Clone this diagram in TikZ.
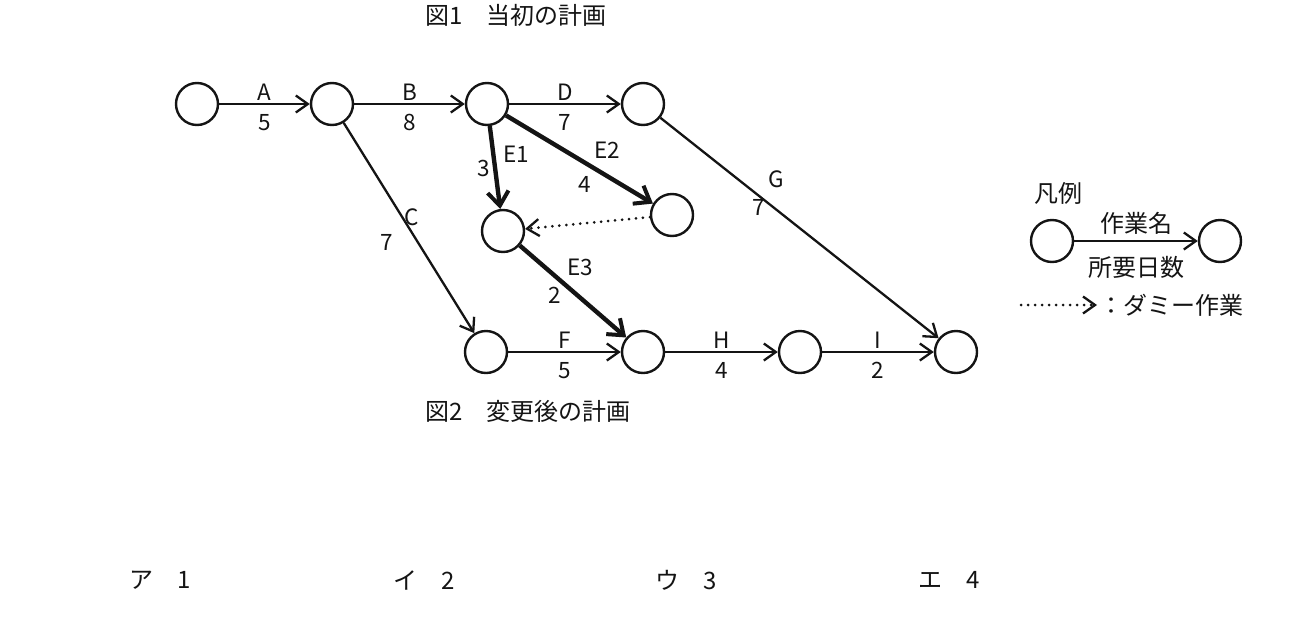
\documentclass[tikz,border=0pt]{standalone}
\usepackage{fontspec}
\setmainfont{Noto Sans CJK JP}
\usepackage{xcolor}
\usepackage{tikz}
\usetikzlibrary{arrows.meta}
\definecolor{ink}{HTML}{141414}
\tikzset{
  event/.style={draw=ink, circle, line width=2.4pt, minimum size=42pt, inner sep=0pt},
  job/.style={draw=ink, line width=2.3pt, -{Straight Barb[length=12pt,width=17pt,line width=2.3pt]}},
  crit/.style={draw=ink, line width=4.4pt, -{Straight Barb[length=14pt,width=21pt,line width=4pt]}},
  dummy/.style={draw=ink, line width=3pt, line cap=round, dash pattern=on 0pt off 7pt,
    -{Straight Barb[length=12pt,width=17pt,line width=2.3pt,line cap=butt]}},
  lab/.style={text=ink, font=\fontsize{22.5}{26}\selectfont, inner sep=0pt},
  jp/.style={text=ink, font=\fontsize{24}{28}\selectfont, inner sep=0pt},
}
\begin{document}
\begin{tikzpicture}[x=1pt,y=-1pt]
\useasboundingbox (0,0) rectangle (1304,627);

% titles
\node[jp,anchor=west] (fig1) at (425,15) {図1　当初の計画};
\node[jp,anchor=west] (fig2) at (425,411) {図2　変更後の計画};

% events
\node[event] (n1) at (197,104) {};
\node[event] (n2) at (332,104) {};
\node[event] (n3) at (487,104) {};
\node[event] (n4) at (643,104) {};
\node[event] (n5) at (672,215) {};
\node[event] (n6) at (503,231) {};
\node[event] (n7) at (486,352) {};
\node[event] (n8) at (643,352) {};
\node[event] (n9) at (800,352) {};
\node[event] (n10) at (956,352) {};

% activities
\draw[job] (n1) -- node[lab,above=2pt] (tA) {A} node[lab,below=9pt] (dA) {5} (n2);
\draw[job] (n2) -- node[lab,above=2pt] (tB) {B} node[lab,below=9pt] (dB) {8} (n3);
\draw[job] (n3) -- node[lab,above=2pt] (tD) {D} node[lab,below=9pt] (dD) {7} (n4);
\draw[job] (n7) -- node[lab,above=2pt] (tF) {F} node[lab,below=9pt] (dF) {5} (n8);
\draw[job] (n8) -- node[lab,above=2pt] (tH) {H} node[lab,below=9pt] (dH) {4} (n9);
\draw[job] (n9) -- node[lab,above=2pt] (tI) {I} node[lab,below=9pt] (dI) {2} (n10);
\draw[job] (n2) -- (n7);
\draw[job] (n4) -- (n10);
\draw[crit] (n3) -- (n6);
\draw[crit] (n3) -- (n5);
\draw[crit] (n6) -- (n8);
\draw[dummy] (n5) -- (n6);

\node[lab] (tC) at (412,217) {C};
\node[lab] (dC) at (387,242) {7};
\node[lab] (tG) at (776,179) {G};
\node[lab] (dG) at (759,207) {7};
\node[lab] (tE1) at (516,154) {E1};
\node[lab] (dE1) at (484,168) {3};
\node[lab] (tE2) at (607,150) {E2};
\node[lab] (dE2) at (585,184) {4};
\node[lab] (tE3) at (580,267) {E3};
\node[lab] (dE3) at (555,295) {2};

% legend
\node[jp,anchor=west] (key) at (1034,193) {凡例};
\node[event] (k1) at (1052,241) {};
\node[event] (k2) at (1220,241) {};
\draw[job] (k1) -- (k2);
\node[jp] (kname) at (1136,223) {作業名};
\node[jp] (kdays) at (1136,267) {所要日数};
\coordinate (ks) at (1021,305);
\coordinate (ke) at (1097,305);
\draw[dummy] (ks) -- (ke);
\node[jp,anchor=west] (kdummy) at (1099,305) {：ダミー作業};

% choices
\node[jp] (ca) at (160,580) {ア　1};
\node[jp] (cb) at (424,580) {イ　2};
\node[jp] (cc) at (686,580) {ウ　3};
\node[jp] (cd) at (949,580) {エ　4};
\end{tikzpicture}
\end{document}
